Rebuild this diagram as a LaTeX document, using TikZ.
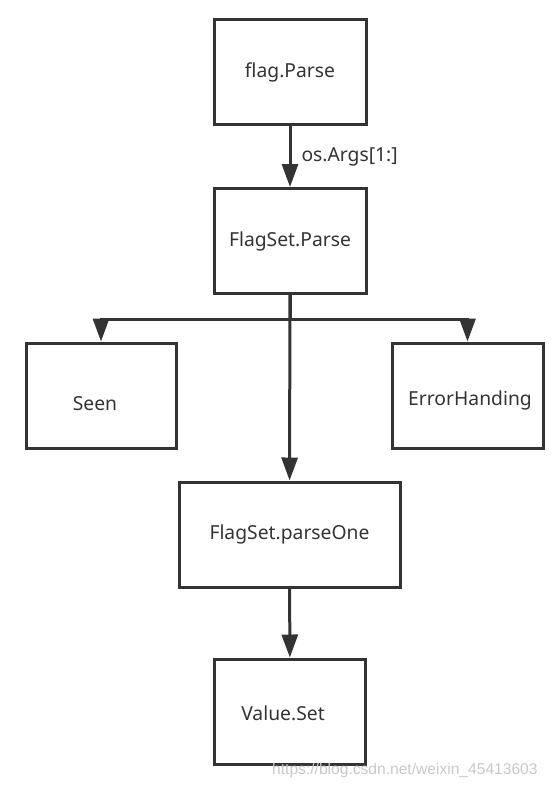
\documentclass[tikz,border=0pt]{standalone}
\usepackage{fontspec}
\setmainfont{Noto Sans}
\newfontfamily\wmfont{Liberation Sans}
\usetikzlibrary{arrows.meta}
\definecolor{ink}{HTML}{333333}
\definecolor{wm}{HTML}{C8C8C8}
\tikzset{
  box/.style={draw=ink, line width=3pt, rectangle, minimum height=105pt,
    text=ink, font=\fontsize{19.3}{21}\selectfont, inner sep=0pt,
    text height=14pt, text depth=4pt},
  arrowline/.style={draw=ink, line width=3pt,
    -{Triangle[width=16pt,length=23pt]}},
}
\begin{document}
\begin{tikzpicture}[x=1pt,y=-1pt]
\useasboundingbox (0,0) rectangle (553,785);
\node[box, minimum width=152pt] (fp) at (290,72) {flag.Parse};
\node[box, minimum width=152pt] (fsp) at (290,241) {FlagSet.Parse};
\node[box, minimum width=150pt, text height=33pt] (seen) at (101,395.5) {\hspace*{-12pt}Seen};
\node[box, minimum width=151pt, text height=23pt] (err) at (467.5,395.5) {\hspace*{5pt}ErrorHanding};
\node[box, minimum width=221pt] (po) at (289.5,534.5) {FlagSet.parseOne};
\node[box, minimum width=151pt, text height=22pt] (vs) at (290,711.5) {\hspace*{-14pt}Value.Set};
\coordinate (j) at (290,319);
\draw[arrowline] (fp) -- node[right, xshift=4pt, text=ink, font=\fontsize{19.3}{21}\selectfont, inner sep=6pt] (lab) {os.Args[1:]} (fsp);
\draw[arrowline] (fsp) -- (po);
\draw[arrowline] (fsp.south) -- (j) -| (seen.north);
\draw[arrowline] (j) -| (err.north);
\draw[arrowline] (po) -- (vs);
\node[anchor=west, text=wm, font=\wmfont\fontsize{15.6}{17}\selectfont, inner sep=0pt] (wmk) at (272,770) {https://blog.csdn.net/weixin\_45413603};
\end{tikzpicture}
\end{document}
